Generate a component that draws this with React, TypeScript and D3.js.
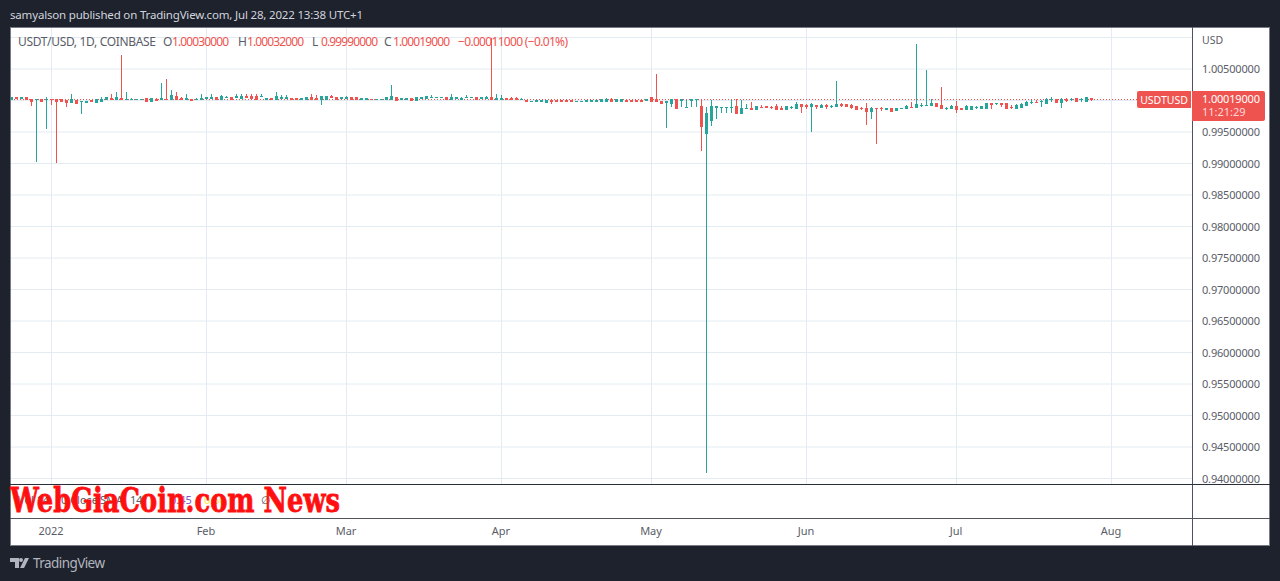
import React, { useRef, useEffect } from 'react';
import * as d3 from 'd3';

// candle values are offsets from 1.0 in basis points (0.0001)
const opens = [
  1,4,3,4,2,1,2,1,2,1,1,0,-3,0,-2,-3,0,-3,-1,1,3,1,3,1,1,1,1,3,-1,2,1,2,2,6,3,1,2,1,1,3,3,5,1,4,4,5,3,6,7,6,6,2,3,
  2,3,3,3,3,1,2,4,3,
  2,2,7,5,3,3,5,5,1,2,2,1,1,2,2,5,1,2,3,0,3,3,4,5,5,5,2,3,2,4,5,5,3,3,5,2,2,3,3,3,1,0,-2,-2,-1,-3,0,0,0,0,0,-2,-2,-1,-1,-2,-1,-1,1,-2,-1,0,0,0,
  0,0,4,2,-1,-3.4,-4,1,0.5,-11,0.5,1,-10,-52,-31,-11,-11.5,-11.5,-11.5,-10,-21,-12.5,-12,-15,-10.5,-10,-10.5,-10,-12,-15,-11,-12,-7,-8.5,-10,-7.5,-11,-8.5,-9.5,-10,-7,-7,-8.7,-10.3,
  -12,-12,-18,-12,-12,-13.5,-12.4,-16,-12.5,-13,-10.5,-11,-8,-8,-8.7,-5.5,-8.7,-12.5,-13,-10.3,-12,-15,-13.5,-11,-12.4,-12,-4.5,-5.5,-4.5,-5.5,-10.5,-12.4,-10.8,-8.7,-3,-2.4,-1.7,-4,1,2,-2.4,1,1.5,3,1,-0.8,3,
];
const closes = [
  5,3,4,2,-1,2,-2,2,1,-1,-1,-3,1,-4,-1,-1,-1,1,2,4,1,4,1,2,2,2,2,-1,3,0,3,1,8,1,1,3,0,2,3,4,4,1,6,5,2,7,7,5,3,1,7,3,1,
  6,4,4,1,1,3,4,1,1,
  6,7,5,2,4,5,2,2,3,3,1,2,2,4,6,0,3,3,0,4,4,6,5,5.5,5.5,1,5,4,3,5,5.5,2,4,4,1,3,3,1,2,2,1.5,-2,-1,0,0,0,-1,-1,-2,-2,-2,-1,-1,0,0,0,1,1,-2,1,1,-1,-1,-1,
  -2,2,-2,-2,-4,-2,1,-12,1,-10.5,1,1.5,-42,-20,-10,-10,-11,-11,-11,-21,-12,-12,-15,-10,-11,-10.5,-11,-13.5,-15,-10,-10.5,-7,-10,-9,-7,-10,-8,-9,-9,-7,-7.5,-10,-11,-13.5,
  -12.5,-18,-12,-12.5,-12.5,-12.4,-17,-12,-12,-9.2,-11,-7,-7.6,-7.6,-5.5,-10.3,-13,-12.4,-9.2,-13.5,-15,-10.3,-10.3,-10.8,-9.2,-4.5,-7,-5,-7,-12,-11,-8.7,-7,-2.4,-2.4,-3,-1.3,2,1.3,-2.4,2,0.5,2,-0.8,1.3,4,1.9,
];
const highs = [
  6,5,4,4,2,2,2,5,2,1,1,0,11,0,-1,-1,0,1,5,4,11,13,72,13,4,3,2,4,3,4,27,34,17,13,5,10,3,4,10,4,10,5,8,7,4,11,11,11,11,11,11,3,3,
  13,9,9,3,3,3,4,11,9,
  7,7,8,5,6,7,5,5,3,4,2,3,3,4,25,5,4,3,3,5,5,6,9,5.5,5.5,5,10,5,5,8,5.5,5,6,7,99,11,8,3,6,5,4,1,-1,0,0,0,0,0,0,0,0,-1,-1,0,0,0,3,4,4,1,1,0,0,0,
  0.8,3,4,42,-1,-2,1,1,2,1,1,2,1,-10,1,-10,-11,-11,1,2,1,-5.5,-3,-10,-7,-9,-9,-5.6,-9,-9,-9,-2.5,-5.6,-5,-4,-7.5,-6,-5.6,-7,31,-4,-7,-5.6,-10.3,
  -10,-4,-10,-12,-10,-12.4,-12.4,-12,-12,-7,-2.5,90,-4.5,48,2,-5.5,21.4,-10.3,-7,-1,-12,-7,-10.3,-9,-9.2,-4.5,-4.5,-5,-4.5,-5.5,-7.6,-5.5,-4,-1,1,1,1,4,5.6,2,4,3.5,4,3,4,4,3.2,
];
const lows = [
  1,2,3,2,-9,-97,-2,-45,-7,-99,-1,-10,-4,-4,-21,-3,-1,-3,-3,1,1,1,1,1,1,1,1,-1,-1,0,1,1,2,1,1,1,0,1,1,3,3,1,1,4,2,5,3,5,3,1,6,2,1,
  3,3,3,1,1,1,2,1,1,
  -7,2,5,2,3,3,2,2,1,2,1,1,1,2,2,0,1,2,0,0,3,3,4,5,5,1,2,3,2,4,5,2,3,3,1,2,2,1,2,2,1,-2,-2,-2,-1,-3,-5.5,-1,-2,-2,-2,-2,-2,-1,-1,-2,-1,-1,-2,-2,-1,-1,-1,-1,
  -2,0,-2,-2,-4,-44,-10,-12,-10,-12,-10,-10,-80,-591,-40,-29,-20,-20,-20,-21,-21,-12.5,-15,-15,-11,-10.5,-13.5,-13.5,-15,-15,-13.5,-12,-20,-13.5,-50,-13.5,-11,-13.5,-12,-10,-10,-10,-13.5,-13.5,
  -15,-39,-29.4,-69,-16,-13.5,-17,-16,-12.5,-13,-11,-11,-10.3,-8,-8.7,-10.3,-13,-15,-13,-20,-15,-15,-13.5,-13.5,-12.4,-12,-13.5,-5.5,-10.3,-12,-13.5,-12.4,-10.8,-8.7,-5.5,-4.5,-10.3,-4,-2.4,-2.4,-12,-3,-0.8,-0.8,-2.4,-0.8,-1,
];

const priceTicks = [1.005, 0.995, 0.99, 0.985, 0.98, 0.975, 0.97, 0.965, 0.96, 0.955, 0.95, 0.945, 0.94];
const priceGrid = [1.01, 1.005, 1, 0.995, 0.99, 0.985, 0.98, 0.975, 0.97, 0.965, 0.96, 0.955, 0.95, 0.945, 0.94];
const monthDates = ['2022-01-01', '2022-02-01', '2022-03-01', '2022-04-01', '2022-05-01', '2022-06-01', '2022-07-01', '2022-08-01'];
const monthLabels = ['2022', 'Feb', 'Mar', 'Apr', 'May', 'Jun', 'Jul', 'Aug'];
const firstDay = '2021-12-24';
const lastDay = '2022-08-01';
const lastClose = 1.00019;

const legendOHLC = [
  { key: 'O', value: '1.00030000', kx: 163, vx: 172 },
  { key: 'H', value: '1.00032000', kx: 238, vx: 247 },
  { key: 'L', value: '0.99990000', kx: 312, vx: 321 },
  { key: 'C', value: '1.00019000', kx: 384, vx: 393 },
];

const GREEN = '#26a69a';
const RED = '#ef5350';
const DARK = '#1e222d';
const GRID = '#e3ecf2';
const TEXT = '#5a5d68';
const FONT = "'Noto Sans', sans-serif";

export default function App() {
  const svgRef = useRef(null);

  useEffect(() => {
    const svg = d3.select(svgRef.current);
    svg.selectAll('*').remove();

    const x = d3.scaleUtc()
      .domain([new Date(firstDay), new Date(lastDay)])
      .range([11, 1111]);
    const y = d3.scaleLinear().domain([0.94, 1.01]).range([478.5, 37.5]);
    const bp = (v) => y(1 + v / 10000);
    const dayX = (i) => x(d3.utcDay.offset(new Date(firstDay), i));

    svg.append('rect').attr('width', 1280).attr('height', 581).attr('fill', DARK);
    svg.append('rect').attr('x', 10).attr('y', 27).attr('width', 1260).attr('height', 519).attr('fill', '#fff');

    // grid
    svg.append('g').selectAll('line').data(priceGrid).join('line')
      .attr('x1', 11).attr('x2', 1192)
      .attr('y1', d => y(d)).attr('y2', d => y(d))
      .attr('stroke', GRID);
    svg.append('g').selectAll('line').data(monthDates).join('line')
      .attr('x1', d => x(new Date(d)) + 0.5).attr('x2', d => x(new Date(d)) + 0.5)
      .attr('y1', 27).attr('y2', 484)
      .attr('stroke', GRID);

    // current price line
    svg.append('line')
      .attr('x1', 11).attr('x2', 1137)
      .attr('y1', Math.floor(y(lastClose)) + 0.5).attr('y2', Math.floor(y(lastClose)) + 0.5)
      .attr('stroke', RED).attr('stroke-dasharray', '1 2');

    // candles
    const candles = svg.append('g').attr('shape-rendering', 'crispEdges');
    opens.forEach((o, i) => {
      const c = closes[i];
      const color = c >= o ? GREEN : RED;
      const cx = Math.round(dayX(i));
      const top = Math.round(bp(highs[i]));
      const bottom = Math.round(bp(lows[i]));
      candles.append('rect')
        .attr('x', cx).attr('y', top)
        .attr('width', 1).attr('height', Math.max(1, bottom - top))
        .attr('fill', color);
      const bodyTop = Math.floor(bp(Math.max(o, c)));
      const bodyBottom = Math.ceil(bp(Math.min(o, c)));
      candles.append('rect')
        .attr('x', cx - 1).attr('y', bodyTop)
        .attr('width', 3).attr('height', Math.max(1, bodyBottom - bodyTop))
        .attr('fill', color);
    });

    // frame and pane separators
    const frame = svg.append('g').attr('shape-rendering', 'crispEdges');
    frame.append('rect').attr('x', 10.5).attr('y', 27.5).attr('width', 1259).attr('height', 518)
      .attr('fill', 'none').attr('stroke', '#787b86');
    frame.append('line').attr('x1', 1192.5).attr('x2', 1192.5).attr('y1', 27).attr('y2', 546).attr('stroke', '#50535e');
    frame.append('line').attr('x1', 10).attr('x2', 1270).attr('y1', 484.5).attr('y2', 484.5).attr('stroke', '#2a2e39');
    frame.append('line').attr('x1', 10).attr('x2', 1270).attr('y1', 518.5).attr('y2', 518.5).attr('stroke', '#50535e');

    // price axis
    const yAxis = svg.append('g')
      .attr('transform', 'translate(1192,0)')
      .call(d3.axisRight(y).tickValues(priceTicks).tickSize(0).tickPadding(10).tickFormat(d3.format('.8f')));
    yAxis.select('.domain').remove();
    yAxis.selectAll('text').attr('fill', TEXT).attr('font-family', FONT).attr('font-size', 11).attr('textLength', 58);

    svg.append('text').attr('x', 1202).attr('y', 44).attr('fill', TEXT)
      .attr('font-family', FONT).attr('font-size', 10.5).text('USD');

    // time axis
    const xAxis = svg.append('g')
      .attr('transform', 'translate(-0.5,518)')
      .call(d3.axisBottom(x)
        .tickValues(monthDates.map(d => new Date(d)))
        .tickSize(0).tickPadding(9)
        .tickFormat((d, i) => monthLabels[i]));
    xAxis.select('.domain').remove();
    xAxis.selectAll('text').attr('fill', TEXT).attr('font-family', FONT).attr('font-size', 11);

    // price tags
    svg.append('path').attr('d', 'M1191 91H1139a2 2 0 0 0 -2 2V106a2 2 0 0 0 2 2H1191Z').attr('fill', RED);
    svg.append('text').attr('x', 1164).attr('y', 103.5).attr('text-anchor', 'middle')
      .attr('fill', '#fff').attr('font-family', FONT).attr('font-size', 10.5).text('USDTUSD');
    svg.append('path').attr('d', 'M1192 91H1263a2 2 0 0 1 2 2V119a2 2 0 0 1 -2 2H1192Z').attr('fill', RED);
    svg.append('text').attr('x', 1202).attr('y', 103).attr('fill', '#fff').attr('textLength', 58)
      .attr('font-family', FONT).attr('font-size', 11).text('1.00019000');
    svg.append('text').attr('x', 1202).attr('y', 116).attr('fill', '#ffd9d8')
      .attr('font-family', FONT).attr('font-size', 11).text('11:21:29');

    // legend
    const legend = svg.append('g').attr('font-family', FONT).attr('font-size', 12);
    legend.append('text').attr('x', 18).attr('y', 46).attr('fill', TEXT).attr('textLength', 138).text('USDT/USD, 1D, COINBASE');
    legendOHLC.forEach(d => {
      legend.append('text').attr('x', d.kx).attr('y', 46).attr('fill', TEXT).text(d.key);
      legend.append('text').attr('x', d.vx).attr('y', 46).attr('fill', RED).attr('textLength', 57).text(d.value);
    });
    legend.append('text').attr('x', 458).attr('y', 46).attr('fill', RED).attr('textLength', 110).text('\u22120.00011000 (\u22120.01%)');

    // indicator pane
    const pane = svg.append('g').attr('font-family', FONT).attr('font-size', 11).attr('fill', TEXT);
    pane.append('text').attr('x', 18).attr('y', 504).text('Vol 14');
    pane.append('text').attr('x', 61).attr('y', 504).text('0 Close');
    pane.append('text').attr('x', 100).attr('y', 504).text('SMA');
    pane.append('text').attr('x', 130).attr('y', 504).text('14');
    pane.append('text').attr('x', 170).attr('y', 504).attr('fill', '#7e57c2').text('0.45');
    pane.append('text').attr('x', 204).attr('y', 504).attr('fill', '#ffeb3b').text('0.50');
    pane.append('text').attr('x', 261).attr('y', 504).text('\u2205');

    // overlaid watermark
    svg.append('text').attr('x', 10).attr('y', 512)
      .attr('font-family', "'DejaVu Serif', serif").attr('font-weight', 'bold').attr('font-size', 34)
      .attr('fill', '#ff1010').attr('stroke', '#ff1010').attr('stroke-width', 0.8)
      .attr('textLength', 330).attr('lengthAdjust', 'spacingAndGlyphs')
      .text('WebGiaCoin.com News');

    // header and footer
    svg.append('text').attr('x', 10).attr('y', 19).attr('fill', '#d1d4dc')
      .attr('font-family', FONT).attr('font-size', 11.5).attr('textLength', 353)
      .text('samyalson published on TradingView.com, Jul 28, 2022 13:38 UTC+1');
    svg.append('path')
      .attr('d', 'M10 558H19V568H15V562H10Z M21 558A2 2 0 1 1 21 562A2 2 0 1 1 21 558Z M25 558H29L24 568H20Z')
      .attr('fill', '#b2b5be');
    svg.append('text').attr('x', 33).attr('y', 568).attr('fill', '#b2b5be')
      .attr('font-family', FONT).attr('font-size', 13.5).attr('textLength', 72)
      .text('TradingView');
  }, []);

  return <svg ref={svgRef} width={1280} height={581} style={{ position: 'absolute', left: 0, top: 0, display: 'block' }} />;
}
